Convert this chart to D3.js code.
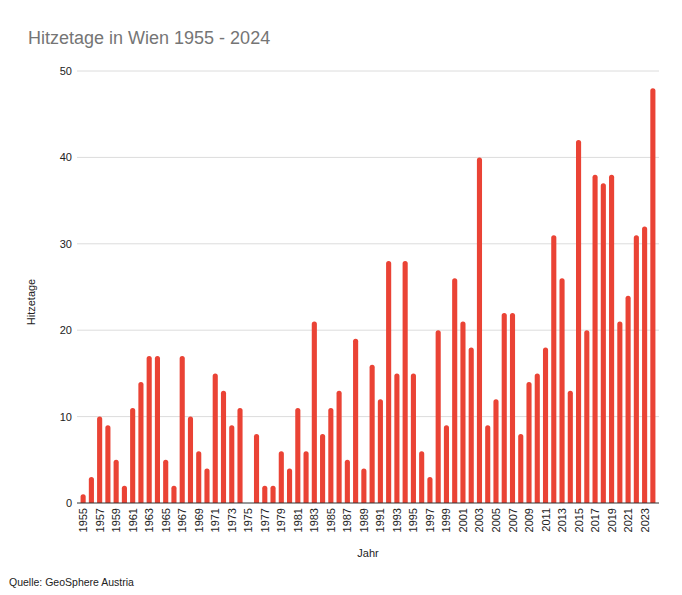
<!DOCTYPE html>
<html><head><meta charset="utf-8">
<script src="https://cdn.jsdelivr.net/npm/d3@7"></script>
<style>body{margin:0;background:#fff;font-family:"Liberation Sans",Arial,sans-serif;}</style>
</head><body><div id="chart"></div>
<script>
const years = d3.range(1955, 2025);
const hitzetage = [1,3,10,9,5,2,11,14,17,17,5,2,17,10,6,4,15,13,9,11,0,8,2,2,6,4,11,6,21,8,11,13,5,19,4,16,12,28,15,28,15,6,3,20,9,26,21,18,40,9,12,22,22,8,14,15,18,31,26,13,42,20,38,37,38,21,24,31,32,48];
const yTicks = [0,10,20,30,40,50];
const title = "Hitzetage in Wien 1955 - 2024";
const source = "Quelle: GeoSphere Austria";

const W = 682, H = 595;
const m = {left:79, right:25, top:71, bottom:92};
const svg = d3.select("#chart").append("svg").attr("width",W).attr("height",H);

const x = d3.scaleBand().domain(years).range([m.left, W - m.right]).paddingInner(0.38).paddingOuter(0.19);
const y = d3.scaleLinear().domain([0,50]).range([H - m.bottom, m.top]);

// grid
svg.append("g").selectAll("line").data(yTicks.filter(d=>d>0)).join("line")
  .attr("x1", m.left-2).attr("x2", W - m.right+2)
  .attr("y1", d=>y(d)).attr("y2", d=>y(d))
  .attr("stroke","#dcdcdc").attr("stroke-width",1);

// y labels
svg.append("g").selectAll("text").data(yTicks).join("text")
  .attr("x", m.left-7).attr("y", d=>y(d)+4)
  .attr("text-anchor","end").attr("font-size",11).attr("fill","#222")
  .text(d=>d);

// bars (rounded top)
const data = years.map((yr,i)=>({yr, v:hitzetage[i]}));
const bw = x.bandwidth();
const r = Math.min(2.5, bw/2);
svg.append("g").selectAll("path").data(data.filter(d=>d.v>0)).join("path")
  .attr("fill","#ea4335")
  .attr("d", d=>{
    const x0 = x(d.yr), x1 = x0+bw, yb = y(0), yt = y(d.v);
    const rr = Math.min(r, (yb-yt));
    return `M${x0},${yb}V${yt+rr}Q${x0},${yt} ${x0+rr},${yt}H${x1-rr}Q${x1},${yt} ${x1},${yt+rr}V${yb}Z`;
  });

// baseline
svg.append("line").attr("x1", m.left-2).attr("x2", W - m.right+2)
  .attr("y1", y(0)).attr("y2", y(0)).attr("stroke","#333").attr("stroke-width",1);

// x labels
svg.append("g").selectAll("text").data(years.filter((d,i)=>i%2===0)).join("text")
  .attr("transform", d=>`translate(${x(d)+bw/2+4},${y(0)+5}) rotate(-90)`)
  .attr("text-anchor","end").attr("font-size",11).attr("fill","#222")
  .text(d=>d);

// titles
svg.append("text").attr("x",28).attr("y",44).attr("font-size",18).attr("fill","#757575").text(title);
svg.append("text").attr("x",(m.left + W - m.right)/2).attr("y",557).attr("text-anchor","middle")
  .attr("font-size",11).attr("fill","#222").text("Jahr");
svg.append("text").attr("transform",`translate(35,${(y(0)+y(50))/2+15}) rotate(-90)`).attr("text-anchor","middle")
  .attr("font-size",11).attr("fill","#222").text("Hitzetage");
svg.append("text").attr("x",9).attr("y",586).attr("font-size",10.5).attr("fill","#222").text(source);
</script></body></html>
